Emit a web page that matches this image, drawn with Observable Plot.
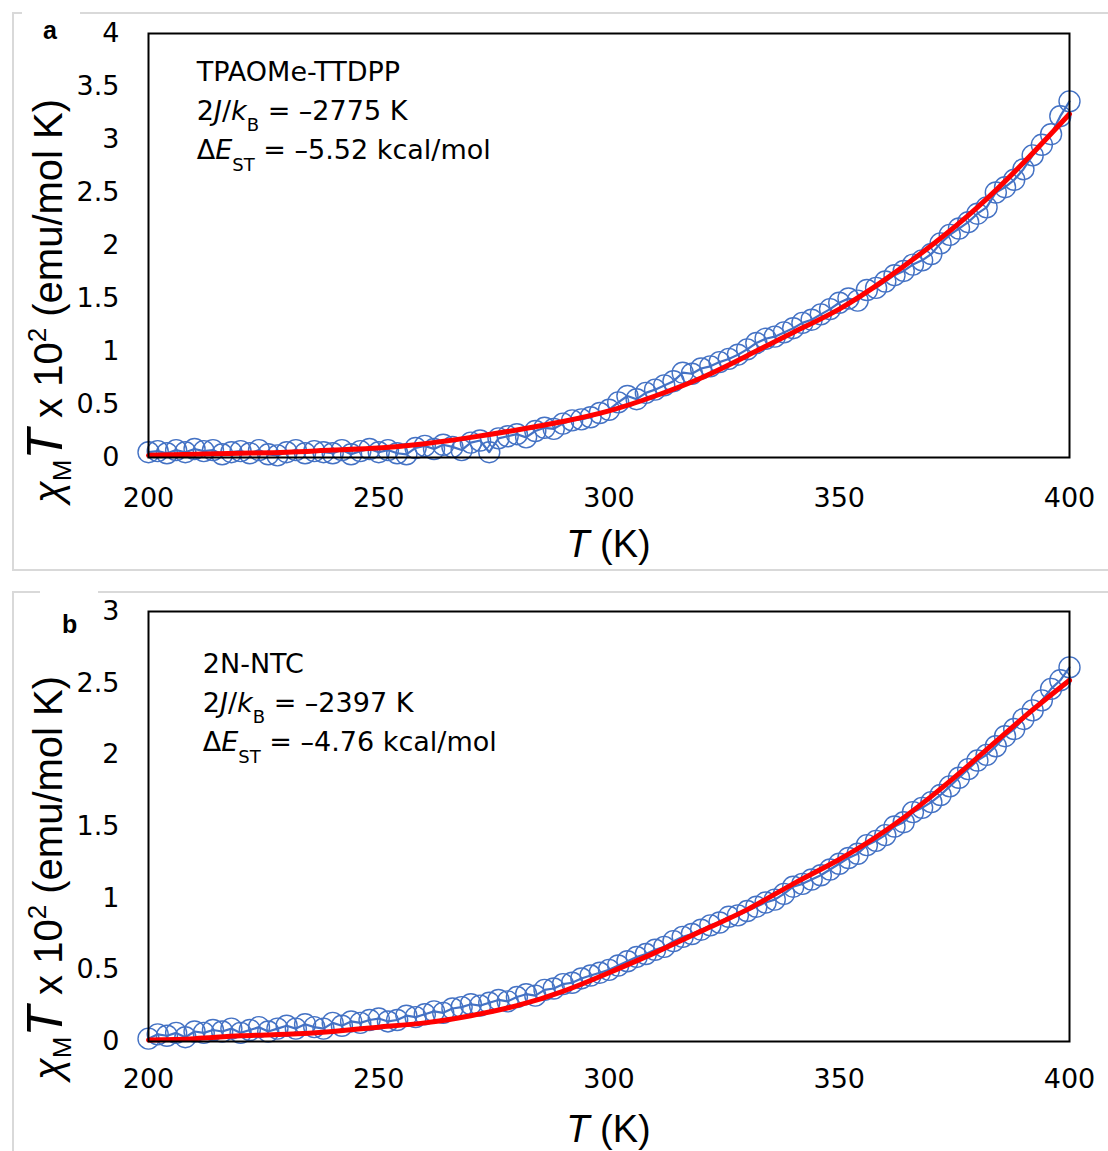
<!DOCTYPE html>
<html><head><meta charset="utf-8">
<script src="https://cdn.jsdelivr.net/npm/d3@7"></script>
<script src="https://cdn.jsdelivr.net/npm/@observablehq/plot@0.6"></script>
<style>
body{margin:0;background:#fff;}
#wrap{position:relative;width:1108px;height:1151px;overflow:hidden;}
.panel{position:absolute;border:2px solid #d9d9d9;box-sizing:border-box;}
.gap{position:absolute;background:#fff;height:6px;}
.tag{position:absolute;font:bold 25px "Liberation Sans",Arial,sans-serif;color:#000;line-height:1;}
.plot{position:absolute;left:0;}
</style></head><body><div id="wrap">
<div class="panel" style="left:12px;top:12px;width:1110px;height:559px;"></div>
<div class="gap" style="left:22px;top:10px;width:58px;"></div>
<div class="tag" style="left:43px;top:18px;">a</div>
<div class="panel" style="left:12px;top:591px;width:1110px;height:600px;"></div>
<div class="gap" style="left:40px;top:589px;width:58px;"></div>
<div class="tag" style="left:62px;top:612px;">b</div>
<div id="pa" class="plot" style="top:0px;"></div>
<div id="pb" class="plot" style="top:580px;"></div>
</div>
<script>
// Temperatures (K)
const T = [200,202,204,206,208,210,212,214,216,218,220,222,224,226,228,230,232,234,236,238,240,242,244,246,248,250,252,254,256,258,260,262,264,266,268,270,272,274,276,278,280,282,284,286,288,290,292,294,296,298,300,302,304,306,308,310,312,314,316,318,320,322,324,326,328,330,332,334,336,338,340,342,344,346,348,350,352,354,356,358,360,362,364,366,368,370,372,374,376,378,380,382,384,386,388,390,392,394,396,398,400];
// Panel a: TPAOMe-TTDPP measured chiM*T x 10^2
const chiA = [0.05,0.06,0.04,0.07,0.05,0.08,0.06,0.07,0.03,0.05,0.06,0.04,0.07,0.03,0.02,0.05,0.07,0.04,0.06,0.05,0.04,0.07,0.03,0.06,0.08,0.05,0.07,0.04,0.03,0.09,0.11,0.08,0.12,0.10,0.07,0.14,0.16,0.05,0.18,0.20,0.22,0.19,0.25,0.28,0.27,0.32,0.35,0.36,0.38,0.42,0.45,0.52,0.58,0.55,0.61,0.64,0.68,0.72,0.80,0.79,0.84,0.86,0.90,0.93,0.97,1.02,1.08,1.12,1.14,1.18,1.22,1.27,1.30,1.35,1.40,1.46,1.50,1.48,1.58,1.60,1.66,1.72,1.76,1.82,1.86,1.92,2.02,2.10,2.16,2.22,2.30,2.36,2.50,2.55,2.62,2.72,2.85,2.95,3.05,3.22,3.36];
// Panel b: 2N-NTC measured chiM*T x 10^2
const chiB = [0.02,0.05,0.04,0.06,0.03,0.07,0.06,0.08,0.07,0.09,0.06,0.08,0.10,0.07,0.09,0.11,0.09,0.12,0.10,0.09,0.13,0.11,0.14,0.13,0.15,0.16,0.14,0.15,0.18,0.17,0.19,0.21,0.20,0.23,0.24,0.26,0.25,0.27,0.29,0.28,0.31,0.33,0.32,0.36,0.37,0.40,0.41,0.44,0.46,0.48,0.50,0.53,0.56,0.59,0.61,0.64,0.66,0.70,0.73,0.75,0.78,0.81,0.83,0.87,0.88,0.91,0.94,0.97,0.99,1.03,1.08,1.10,1.13,1.16,1.20,1.24,1.28,1.31,1.37,1.40,1.44,1.50,1.53,1.60,1.63,1.67,1.72,1.78,1.84,1.90,1.96,2.00,2.06,2.13,2.18,2.25,2.31,2.38,2.46,2.52,2.61];
// Fitted curves
const fitT = [200,210,220,230,240,250,260,270,280,290,300,310,320,330,340,350,360,370,380,390,400];
const fitA = [0.02,0.03,0.04,0.05,0.07,0.09,0.13,0.19,0.26,0.34,0.44,0.58,0.75,0.96,1.18,1.40,1.68,2.00,2.36,2.78,3.24];
const fitB = [0.01,0.02,0.04,0.05,0.07,0.10,0.13,0.18,0.25,0.35,0.48,0.62,0.77,0.92,1.10,1.27,1.47,1.71,1.98,2.26,2.52];
// Ticks
const xTicks = [200,250,300,350,400];
const yTicksA = [0,0.5,1,1.5,2,2.5,3,3.5,4];
const yTicksB = [0,0.5,1,1.5,2,2.5,3];
// Annotations
const nameA = "TPAOMe-TTDPP", jA = "–2775 K", eA = "–5.52 kcal/mol";
const nameB = "2N-NTC", jB = "–2397 K", eB = "–4.76 kcal/mol";

function makePanel(o){
  const pts = T.map((t,i)=>({T:t, v:o.data[i]}));
  const fp = fitT.map((t,i)=>({T:t, v:o.fit[i]}));
  const p = Plot.plot({
    width:1108, height:o.height,
    marginLeft:148, marginRight:39, marginTop:o.mt, marginBottom:o.mb,
    style:{fontFamily:'"DejaVu Sans", sans-serif', fontSize:"27px", color:"#000", background:"transparent", overflow:"visible"},
    x:{domain:[200,400], ticks:xTicks, tickFormat:d=>String(d), tickSize:0, tickPadding:o.xPad, label:null},
    y:{domain:o.yDomain, ticks:o.yTicks, tickFormat:d=>String(d), tickSize:0, tickPadding:29, label:null},
    marks:[
      Plot.line(pts,{x:"T",y:"v",stroke:"#4472C4",strokeWidth:2.2}),
      Plot.dot(pts,{x:"T",y:"v",r:10.5,stroke:"#4472C4",strokeWidth:1.4,fill:"none"}),
      Plot.line(fp,{x:"T",y:"v",stroke:"#FF0000",strokeWidth:5,curve:"natural"}),
      Plot.frame({stroke:"#000",strokeWidth:2})
    ]
  });
  const svg = d3.select(p);
  const xs = p.scale("x"), ys = p.scale("y");
  // annotation block
  const ax = xs.apply(o.noteT), ay = ys.apply(o.noteV);
  const g = svg.append("g").attr("text-anchor","start").attr("font-family",'"DejaVu Sans", sans-serif').attr("font-size",27).attr("fill","#000");
  g.append("text").attr("x",ax).attr("y",ay).text(o.name);
  const l2 = g.append("text").attr("x",ax).attr("y",ay+39);
  l2.append("tspan").text("2");
  l2.append("tspan").attr("font-style","italic").text("J");
  l2.append("tspan").text("/");
  l2.append("tspan").attr("font-style","italic").text("k");
  l2.append("tspan").attr("font-size",18).attr("dy",11).text("B");
  l2.append("tspan").attr("dy",-11).text(" = " + o.j);
  const l3 = g.append("text").attr("x",ax).attr("y",ay+78);
  l3.append("tspan").text("Δ");
  l3.append("tspan").attr("font-style","italic").text("E");
  l3.append("tspan").attr("font-size",18).attr("dy",12).text("ST");
  l3.append("tspan").attr("dy",-12).text(" = " + o.e);
  // x title
  const xt = svg.append("text").attr("x",xs.apply(300)).attr("y",o.xTitleY).attr("text-anchor","middle")
    .attr("font-family",'"Liberation Sans", Arial, sans-serif').attr("font-size",38).attr("fill","#000");
  xt.append("tspan").attr("font-style","italic").text("T");
  xt.append("tspan").text(" (K)");
  // y title
  const yt = svg.append("text").attr("transform",`translate(62,${o.yTitleY}) rotate(-90)`).attr("text-anchor","middle")
    .attr("font-family",'"Liberation Sans", Arial, sans-serif').attr("font-size",40).attr("fill","#000");
  yt.append("tspan").attr("font-style","italic").text("χ");
  yt.append("tspan").attr("font-size",26).attr("dy",9).text("M");
  yt.append("tspan").attr("dy",-9).attr("font-style","italic").attr("font-size",50).text("T");
  yt.append("tspan").text(" x 10");
  yt.append("tspan").attr("font-size",26).attr("dy",-16).text("2");
  yt.append("tspan").attr("dy",16).text(" (emu/mol K)");
  return p;
}

document.getElementById("pa").appendChild(makePanel({
  data:chiA, fit:fitA, yDomain:[0,4], yTicks:yTicksA, height:570, mt:33, mb:113, xPad:30,
  noteT:210.6, noteV:3.55, name:nameA, j:jA, e:eA, xTitleY:557, yTitleY:301
}));
document.getElementById("pb").appendChild(makePanel({
  data:chiB, fit:fitB, yDomain:[0,3], yTicks:yTicksB, height:571, mt:31, mb:110, xPad:27,
  noteT:211.9, noteV:2.568, name:nameB, j:jB, e:eB, xTitleY:562, yTitleY:298
}));
</script>
</body></html>
